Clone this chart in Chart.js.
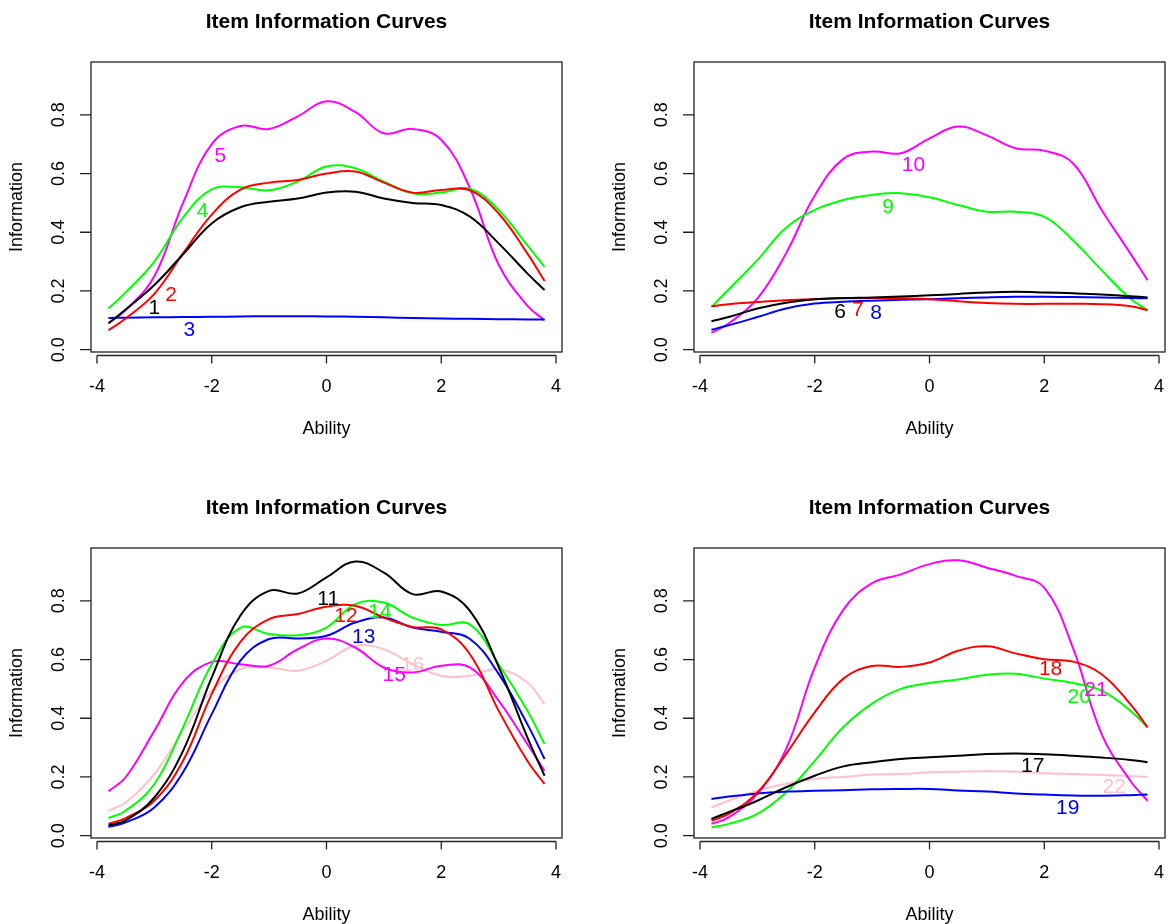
<!DOCTYPE html>
<html lang="en">
<head>
<meta charset="UTF-8" />
<title>Item Information Curves</title>
<style>
  html, body { margin: 0; padding: 0; background: #fff; }
  body { width: 1168px; height: 924px; overflow: hidden; position: relative; }
  .panel { position: absolute; width: 603px; height: 486px; }
</style>
</head>
<body>
<div class="panel" style="left:0;top:0"><canvas id="c1" width="603" height="486"></canvas></div>
<div class="panel" style="left:603px;top:0"><canvas id="c2" width="603" height="486"></canvas></div>
<div class="panel" style="left:0;top:486px"><canvas id="c3" width="603" height="486"></canvas></div>
<div class="panel" style="left:603px;top:486px"><canvas id="c4" width="603" height="486"></canvas></div>

<script src="https://cdn.jsdelivr.net/npm/chart.js@4.4.1/dist/chart.umd.min.js"></script>
<script>
  // ability grid shared by every item curve
  const ability = [-3.8, -3.5, -3, -2.5, -2, -1.5, -1, -0.5, 0, 0.5, 1, 1.5, 2, 2.5, 3, 3.5, 3.8];

  const xTicks = [-4, -2, 0, 2, 4];
  const yTicks = [0, 0.2, 0.4, 0.6, 0.8];
  const yTickText = ['0.0', '0.2', '0.4', '0.6', '0.8'];

  // panel 1
  const item1 = [0.090, 0.137, 0.22, 0.325, 0.43, 0.485, 0.504, 0.515, 0.535, 0.538, 0.515, 0.50, 0.493, 0.453, 0.362, 0.26, 0.203];
  const item2 = [0.066, 0.106, 0.19, 0.328, 0.46, 0.545, 0.569, 0.578, 0.60, 0.607, 0.569, 0.535, 0.544, 0.543, 0.464, 0.328, 0.234];
  const item3 = [0.108, 0.109, 0.11, 0.111, 0.112, 0.113, 0.114, 0.114, 0.113, 0.112, 0.11, 0.108, 0.106, 0.105, 0.104, 0.103, 0.103];
  const item4 = [0.14, 0.195, 0.30, 0.45, 0.546, 0.553, 0.543, 0.573, 0.624, 0.618, 0.572, 0.533, 0.535, 0.548, 0.476, 0.356, 0.282];
  const item5 = [0.089, 0.135, 0.25, 0.50, 0.70, 0.762, 0.752, 0.795, 0.846, 0.81, 0.737, 0.752, 0.715, 0.55, 0.29, 0.15, 0.10];

  // panel 2
  const item6 = [0.097, 0.111, 0.140, 0.160, 0.172, 0.176, 0.178, 0.181, 0.185, 0.19, 0.195, 0.197, 0.195, 0.192, 0.188, 0.182, 0.178];
  const item7 = [0.148, 0.155, 0.162, 0.168, 0.172, 0.175, 0.176, 0.175, 0.172, 0.165, 0.159, 0.156, 0.156, 0.156, 0.155, 0.148, 0.135];
  const item8 = [0.068, 0.083, 0.111, 0.14, 0.157, 0.163, 0.167, 0.17, 0.172, 0.175, 0.178, 0.18, 0.18, 0.179, 0.178, 0.176, 0.175];
  const item9 = [0.145, 0.205, 0.305, 0.415, 0.476, 0.51, 0.527, 0.533, 0.519, 0.493, 0.47, 0.47, 0.453, 0.373, 0.271, 0.174, 0.134];
  const item10 = [0.057, 0.089, 0.174, 0.328, 0.525, 0.65, 0.675, 0.669, 0.72, 0.76, 0.73, 0.686, 0.678, 0.635, 0.476, 0.328, 0.237];

  // panel 3
  const item11 = [0.035, 0.052, 0.13, 0.289, 0.539, 0.75, 0.834, 0.825, 0.88, 0.934, 0.896, 0.823, 0.832, 0.766, 0.575, 0.335, 0.204];
  const item12 = [0.04, 0.06, 0.119, 0.255, 0.482, 0.66, 0.738, 0.755, 0.78, 0.783, 0.743, 0.711, 0.703, 0.618, 0.426, 0.255, 0.176];
  const item13 = [0.03, 0.045, 0.096, 0.216, 0.414, 0.596, 0.67, 0.672, 0.681, 0.726, 0.743, 0.709, 0.695, 0.67, 0.551, 0.38, 0.261];
  const item14 = [0.06, 0.085, 0.176, 0.369, 0.584, 0.708, 0.687, 0.683, 0.709, 0.789, 0.794, 0.743, 0.718, 0.72, 0.584, 0.426, 0.312];
  const item15 = [0.151, 0.199, 0.357, 0.522, 0.592, 0.584, 0.579, 0.635, 0.672, 0.641, 0.573, 0.556, 0.579, 0.573, 0.46, 0.312, 0.221];
  const item16 = [0.085, 0.113, 0.21, 0.357, 0.494, 0.567, 0.573, 0.562, 0.596, 0.647, 0.635, 0.584, 0.545, 0.545, 0.567, 0.522, 0.448];

  // panel 4
  const item17 = [0.057, 0.08, 0.119, 0.165, 0.204, 0.236, 0.25, 0.261, 0.267, 0.272, 0.278, 0.28, 0.277, 0.272, 0.266, 0.258, 0.25];
  const item18 = [0.051, 0.074, 0.147, 0.278, 0.42, 0.535, 0.578, 0.575, 0.59, 0.63, 0.645, 0.621, 0.601, 0.593, 0.55, 0.448, 0.369];
  const item19 = [0.125, 0.133, 0.144, 0.15, 0.153, 0.155, 0.158, 0.159, 0.159, 0.154, 0.15, 0.144, 0.14, 0.137, 0.136, 0.138, 0.14];
  const item20 = [0.028, 0.04, 0.074, 0.147, 0.255, 0.37, 0.45, 0.50, 0.52, 0.532, 0.548, 0.552, 0.535, 0.52, 0.494, 0.426, 0.369];
  const item21 = [0.04, 0.062, 0.142, 0.295, 0.573, 0.77, 0.86, 0.89, 0.925, 0.938, 0.913, 0.885, 0.845, 0.64, 0.346, 0.187, 0.119];
  const item22 = [0.096, 0.119, 0.153, 0.176, 0.193, 0.2, 0.208, 0.21, 0.216, 0.218, 0.219, 0.218, 0.213, 0.21, 0.207, 0.203, 0.2];

  // item number labels (text, ability, information)
  const labels1 = ['1', '2', '3', '4', '5'];
  const labelX1 = [-3.0, -2.71, -2.39, -2.16, -1.85];
  const labelY1 = [0.14, 0.185, 0.066, 0.47, 0.658];

  const labels2 = ['6', '7', '8', '9', '10'];
  const labelX2 = [-1.56, -1.25, -0.93, -0.72, -0.28];
  const labelY2 = [0.129, 0.134, 0.123, 0.487, 0.629];

  const labels3 = ['11', '12', '13', '14', '15', '16'];
  const labelX3 = [0.03, 0.34, 0.65, 0.93, 1.18, 1.5];
  const labelY3 = [0.806, 0.746, 0.675, 0.76, 0.545, 0.579];

  const labels4 = ['17', '18', '19', '20', '21', '22'];
  const labelX4 = [1.8, 2.11, 2.41, 2.61, 2.9, 3.22];
  const labelY4 = [0.238, 0.567, 0.094, 0.471, 0.494, 0.165];

  const colors5 = ['#000000', '#FF0000', '#0000FF', '#00FF00', '#FF00FF'];
  const colors6 = ['#000000', '#FF0000', '#0000FF', '#00FF00', '#FF00FF', '#FFC0CB'];

  const FONT = '"Liberation Sans", Arial, Helvetica, sans-serif';

  const rPlot = {
    id: 'rPlot',
    afterDatasetsDraw(chart, args, opts) {
      const { ctx, chartArea: a, scales: { x, y } } = chart;
      ctx.save();

      // box
      ctx.strokeStyle = '#222';
      ctx.lineWidth = 1.3;
      ctx.strokeRect(a.left, a.top, a.right - a.left, a.bottom - a.top);

      // y ticks + x axis
      ctx.beginPath();
      yTicks.forEach(v => {
        const py = y.getPixelForValue(v);
        ctx.moveTo(a.left - 11, py);
        ctx.lineTo(a.left, py);
      });
      const ax = a.bottom + 3.5;
      ctx.moveTo(x.getPixelForValue(xTicks[0]), ax);
      ctx.lineTo(x.getPixelForValue(xTicks[xTicks.length - 1]), ax);
      xTicks.forEach(v => {
        const px = x.getPixelForValue(v);
        ctx.moveTo(px, ax);
        ctx.lineTo(px, ax + 8);
      });
      ctx.stroke();

      ctx.fillStyle = '#000';
      ctx.textAlign = 'center';
      ctx.textBaseline = 'middle';
      ctx.font = '18px ' + FONT;

      xTicks.forEach(v => {
        ctx.fillText(String(v), x.getPixelForValue(v), a.bottom + 35);
      });
      yTicks.forEach((v, i) => {
        ctx.save();
        ctx.translate(a.left - 31.6, y.getPixelForValue(v));
        ctx.rotate(-Math.PI / 2);
        ctx.fillText(yTickText[i], 0, 0);
        ctx.restore();
      });

      const cx = (a.left + a.right) / 2;
      ctx.fillText('Ability', cx, a.bottom + 77);
      ctx.save();
      ctx.translate(a.left - 74.4, (a.top + a.bottom) / 2);
      ctx.rotate(-Math.PI / 2);
      ctx.fillText('Information', 0, 0);
      ctx.restore();

      ctx.font = 'bold 21px ' + FONT;
      ctx.fillText('Item Information Curves', cx, 22);

      // item number labels
      ctx.font = '21px ' + FONT;
      opts.text.forEach((t, i) => {
        ctx.fillStyle = opts.colors[i];
        ctx.fillText(t, x.getPixelForValue(opts.xs[i]), y.getPixelForValue(opts.ys[i]));
      });
      ctx.restore();
    }
  };

  function makePanel(id, items, colors, text, xs, ys) {
    new Chart(document.getElementById(id), {
      type: 'line',
      data: {
        datasets: items.map((vals, i) => ({
          data: ability.map((a, j) => ({ x: a, y: vals[j] })),
          borderColor: colors[i],
          borderWidth: 2,
          pointRadius: 0,
          fill: false,
          tension: 0.4
        }))
      },
      options: {
        responsive: false,
        animation: false,
        devicePixelRatio: 1,
        layout: { padding: { left: 91, right: 41, top: 62, bottom: 134 } },
        scales: {
          x: { type: 'linear', min: -4.104, max: 4.104, display: false },
          y: { type: 'linear', min: -0.008, max: 0.98, display: false }
        },
        plugins: {
          legend: { display: false },
          tooltip: { enabled: false },
          rPlot: { text: text, xs: xs, ys: ys, colors: colors }
        }
      },
      plugins: [rPlot]
    });
  }

  makePanel('c1', [item1, item2, item3, item4, item5], colors5, labels1, labelX1, labelY1);
  makePanel('c2', [item6, item7, item8, item9, item10], colors5, labels2, labelX2, labelY2);
  makePanel('c3', [item11, item12, item13, item14, item15, item16], colors6, labels3, labelX3, labelY3);
  makePanel('c4', [item17, item18, item19, item20, item21, item22], colors6, labels4, labelX4, labelY4);
</script>
</body>
</html>
